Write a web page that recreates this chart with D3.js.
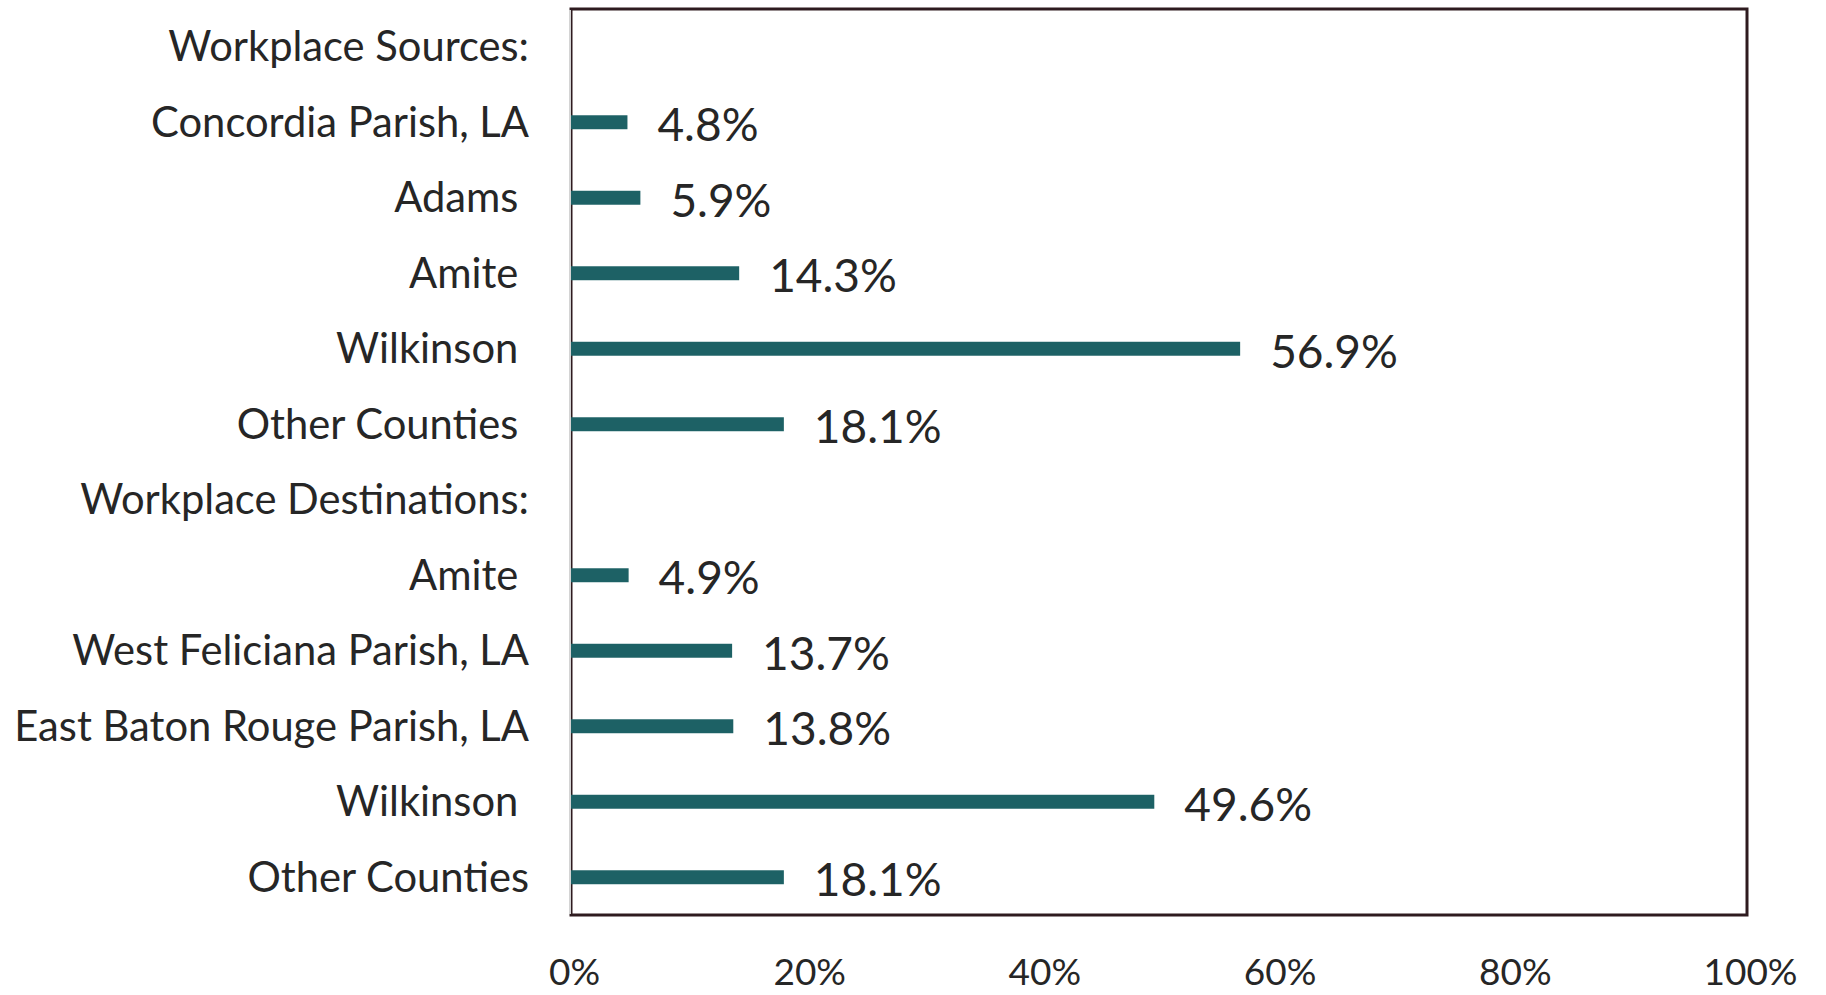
<!DOCTYPE html>
<html>
<head>
<meta charset="utf-8">
<script src="https://cdn.jsdelivr.net/npm/d3@7"></script>
<style>
  html, body { margin: 0; padding: 0; background: #fff; }
  svg { display: block; }
  text { font-family: Lato, "Open Sans", sans-serif; fill: #262626; white-space: pre; }
</style>
</head>
<body>
<div id="chart"></div>
<script>
// category labels (some have a trailing space like in the original)
const categories = [
  "Workplace Sources:",
  "Concordia Parish, LA",
  "Adams ",
  "Amite ",
  "Wilkinson ",
  "Other Counties ",
  "Workplace Destinations:",
  "Amite ",
  "West Feliciana Parish, LA",
  "East Baton Rouge Parish, LA",
  "Wilkinson ",
  "Other Counties"
];
// percent values, null for the header rows
const values = [null, 4.8, 5.9, 14.3, 56.9, 18.1, null, 4.9, 13.7, 13.8, 49.6, 18.1];
const tickValues = [0, 20, 40, 60, 80, 100];

const width = 1826;
const height = 995;
const margin = {top: 9, right: 79, bottom: 80, left: 571};

const svg = d3.select("#chart")
    .append("svg")
    .attr("width", width)
    .attr("height", height);

const x = d3.scaleLinear()
    .domain([0, 100])
    .range([margin.left, width - margin.right]);

const y = d3.scaleBand()
    .domain(d3.range(categories.length))
    .range([margin.top, height - margin.bottom])
    .paddingInner(0.815)
    .paddingOuter(0.4075);

const rows = categories.map((c, i) => ({i: i, label: c, value: values[i]}));

// plot area border
svg.append("rect")
    .attr("x", x(0))
    .attr("y", margin.top)
    .attr("width", x(100) - x(0))
    .attr("height", height - margin.bottom - margin.top)
    .style("fill", "none")
    .style("stroke", "#2e1b1f")
    .style("stroke-width", 3);

// vertical axis line
svg.append("line")
    .attr("x1", x(0) - 1)
    .attr("x2", x(0) - 1)
    .attr("y1", margin.top + 1)
    .attr("y2", height - margin.bottom - 1)
    .style("stroke", "#d4d4d4")
    .style("stroke-width", 2);

// category labels
svg.append("g")
    .selectAll("text")
    .data(rows)
    .enter()
    .append("text")
    .attr("x", x(0) - 42)
    .attr("y", d => y(d.i) + y.bandwidth() / 2)
    .attr("dy", "0.35em")
    .attr("text-anchor", "end")
    .style("font-size", "41.7px")
    .text(d => d.label);

const data = rows.filter(d => d.value !== null);

// bars
svg.append("g")
    .selectAll("rect")
    .data(data)
    .enter()
    .append("rect")
    .attr("x", x(0))
    .attr("y", d => y(d.i))
    .attr("width", d => x(d.value) - x(0))
    .attr("height", y.bandwidth())
    .style("fill", "#1d6165");

// value labels
svg.append("g")
    .selectAll("text")
    .data(data)
    .enter()
    .append("text")
    .attr("x", d => x(d.value) + 30)
    .attr("y", d => y(d.i) + y.bandwidth() / 2 + 3)
    .attr("dy", "0.35em")
    .style("font-size", "46px")
    .text(d => d.value.toFixed(1) + "%");

// x axis tick labels
const xAxis = d3.axisBottom(x)
    .tickValues(tickValues)
    .tickSize(0)
    .tickFormat(d => d + "%");

const gx = svg.append("g")
    .attr("transform", "translate(0,972)")
    .call(xAxis);
gx.select(".domain").remove();
gx.selectAll("text")
    .attr("x", 3)
    .attr("y", 0)
    .attr("dy", "0.35em")
    .style("font-size", "37px")
    .style("font-family", "Lato, 'Open Sans', sans-serif")
    .style("fill", "#262626");
</script>
</body>
</html>
